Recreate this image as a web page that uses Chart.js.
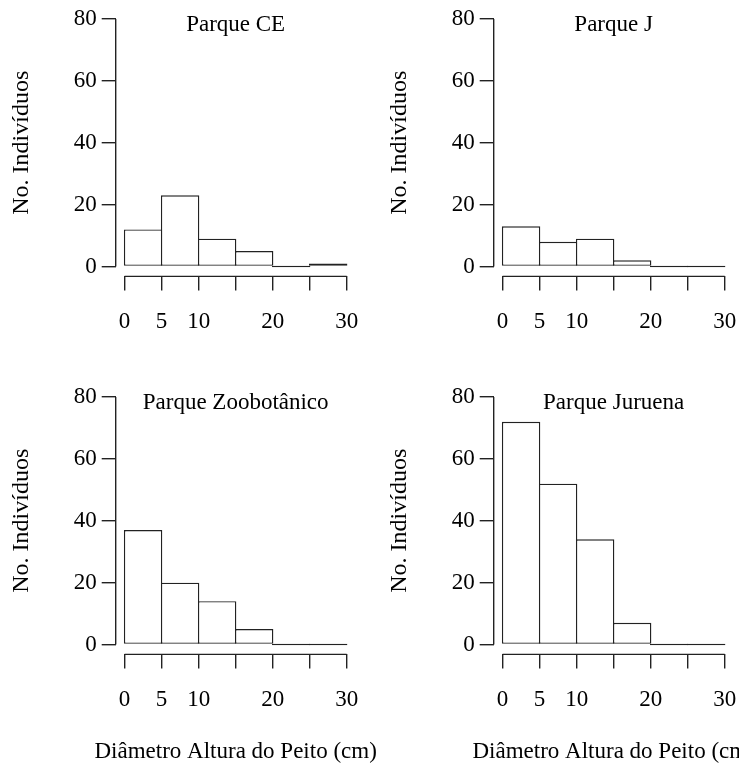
<!DOCTYPE html>
<html>
<head>
<meta charset="utf-8">
<script src="https://cdn.jsdelivr.net/npm/chart.js@4.4.1/dist/chart.umd.min.js"></script>
<style>
  html, body { margin: 0; padding: 0; background: #fff; }
  body { width: 739px; height: 768px; overflow: hidden; position: relative; }
  canvas { position: absolute; }
</style>
</head>
<body>
<canvas id="p1" width="378" height="378" style="left:0;top:0"></canvas>
<canvas id="p2" width="378" height="378" style="left:378px;top:0"></canvas>
<canvas id="p3" width="378" height="390" style="left:0;top:378px"></canvas>
<canvas id="p4" width="378" height="390" style="left:378px;top:378px"></canvas>
<script>
// histogram bins (DAP, cm) and counts per park
const binEdges = [0, 5, 10, 15, 20, 25, 30];
const countsCE = [12, 23, 9, 5, 0, 1];
const countsJ = [13, 8, 9, 2, 0, 0];
const countsZoo = [37, 20, 14, 5, 0, 0];
const countsJuruena = [72, 52, 34, 7, 0, 0];

const xTickValues = [0, 5, 10, 15, 20, 25, 30];
const xTickLabels = ['0', '5', '10', '', '20', '', '30'];
const yTickValues = [0, 20, 40, 60, 80];

const yTitle = 'No. Indivíduos';
const xTitle = 'Diâmetro Altura do Peito (cm)';

const FONT = '"Liberation Serif", "Times New Roman", serif';
const INK = '#222';
const LW = 1.4;

// R-style detached axes, panel title inside the plot region, x label below
const rAxes = {
    id: 'rAxes',
    afterDraw(chart) {
        const {ctx, chartArea, scales: {x, y}} = chart;
        const opts = chart.options.plugins.rAxes;
        const cx = (chartArea.left + chartArea.right) / 2;
        ctx.save();
        ctx.strokeStyle = INK;
        ctx.lineWidth = LW;
        ctx.beginPath();
        ctx.moveTo(chartArea.left, y.getPixelForValue(yTickValues[0]));
        ctx.lineTo(chartArea.left, y.getPixelForValue(yTickValues[yTickValues.length - 1]));
        ctx.moveTo(x.getPixelForValue(xTickValues[0]), chartArea.bottom);
        ctx.lineTo(x.getPixelForValue(xTickValues[xTickValues.length - 1]), chartArea.bottom);
        ctx.stroke();
        ctx.fillStyle = '#000';
        ctx.textAlign = 'center';
        ctx.font = '23px ' + FONT;
        ctx.textBaseline = 'alphabetic';
        ctx.fillText(opts.title, cx, 31);
        if (opts.xLabel) {
            ctx.textBaseline = 'middle';
            ctx.fillText(xTitle, cx, chart.height - 16);
        }
        ctx.restore();
    }
};

function makePanel(id, title, counts, showXTitle) {
    const canvas = document.getElementById(id);
    const h = canvas.height;
    new Chart(canvas, {
        type: 'bar',
        data: {
            datasets: [{
                data: counts.map((c, i) => ({x: (binEdges[i] + binEdges[i + 1]) / 2, y: c})),
                backgroundColor: '#fff',
                borderColor: INK,
                borderWidth: LW,
                borderSkipped: false,
                inflateAmount: 0,
                // a bit over 1 so neighbouring outlines share one edge line
                barPercentage: 1.038,
                categoryPercentage: 1,
                minBarLength: LW
            }]
        },
        options: {
            responsive: false,
            animation: false,
            events: [],
            layout: {padding: {left: 0, top: 9.1, right: 22.4, bottom: 0}},
            plugins: {
                legend: {display: false},
                tooltip: {enabled: false},
                title: {display: false},
                rAxes: {title: title, xLabel: showXTitle}
            },
            scales: {
                x: {
                    type: 'linear',
                    min: -1.2,
                    max: 31.2,
                    offset: false,
                    grid: {display: true, offset: false, drawOnChartArea: false, tickLength: 14, color: INK, lineWidth: LW},
                    border: {display: false},
                    afterBuildTicks: s => { s.ticks = xTickValues.map(v => ({value: v})); },
                    ticks: {
                        autoSkip: false, maxRotation: 0, padding: 18, color: '#000',
                        font: {family: FONT, size: 23},
                        callback: (v, i) => xTickLabels[i]
                    },
                    afterFit: s => { s.height = h - 276.4; s.paddingLeft = 0; s.paddingRight = 0; }
                },
                y: {
                    min: -3.2,
                    max: 83.2,
                    grid: {display: true, drawOnChartArea: false, tickLength: 14, color: INK, lineWidth: LW},
                    border: {display: false},
                    afterBuildTicks: s => { s.ticks = yTickValues.map(v => ({value: v})); },
                    ticks: {padding: 5, color: '#000', font: {family: FONT, size: 23}},
                    title: {display: true, text: yTitle, color: '#000', font: {family: FONT, size: 24}, padding: {top: 7, bottom: 0}},
                    afterFit: s => { s.width = 115.7; s.paddingTop = 0; s.paddingBottom = 0; }
                }
            }
        },
        plugins: [rAxes]
    });
}

makePanel('p1', 'Parque CE', countsCE, false);
makePanel('p2', 'Parque J', countsJ, false);
makePanel('p3', 'Parque Zoobotânico', countsZoo, true);
makePanel('p4', 'Parque Juruena', countsJuruena, true);
</script>
</body>
</html>
